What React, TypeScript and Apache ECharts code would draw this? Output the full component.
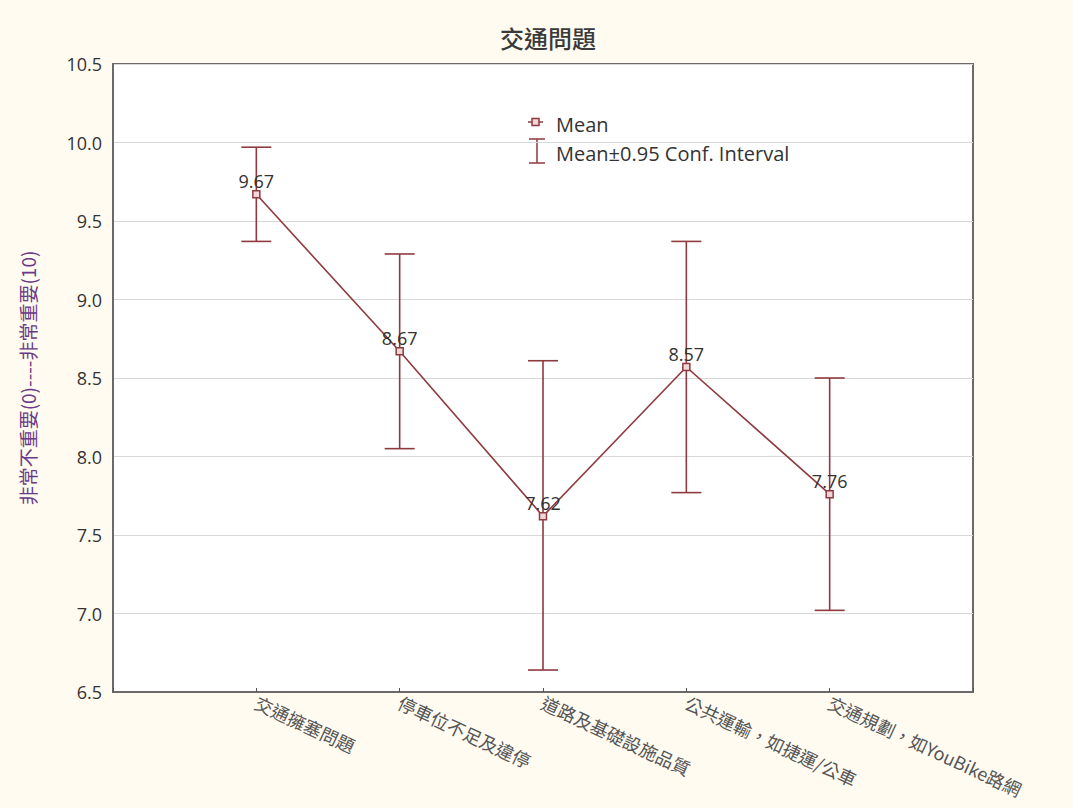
import React, { useEffect, useRef } from "react";
import * as echarts from "echarts";

const title = "交通問題";
const yAxisName = "非常不重要(0)----非常重要(10)";
const categories = [
  "交通擁塞問題",
  "停車位不足及違停",
  "道路及基礎設施品質",
  "公共運輸，如捷運/公車",
  "交通規劃，如YouBike路網",
];
const means = [9.67, 8.67, 7.62, 8.57, 7.76];
const lowerCI = [9.37, 8.05, 6.64, 7.77, 7.02];
const upperCI = [9.97, 9.29, 8.61, 9.37, 8.5];
const legendLabels = ["Mean", "Mean±0.95 Conf. Interval"];

const RED = "#8e3a3e";

export default function App() {
  const ref = useRef<HTMLDivElement>(null);
  useEffect(() => {
    document.body.style.margin = "0";
    const chart = echarts.init(ref.current!, null, { renderer: "svg" });
    const lineData = means.map((m, i) => [i + 1, m]);
    const errData = means.map((m, i) => [i + 1, lowerCI[i], upperCI[i]]);
    chart.setOption({
      animation: false,
      backgroundColor: "#fffbf1",
      title: {
        text: title,
        left: 543,
        top: 20,
        textAlign: "center",
        textStyle: {
          fontFamily: "Noto Sans CJK TC",
          fontSize: 24,
          fontWeight: 500,
          color: "#3a3a3a",
        },
      },
      grid: {
        left: 113,
        top: 64,
        right: 100,
        bottom: 116,
        show: true,
        backgroundColor: "#ffffff",
        borderColor: "#6a6a6a",
        borderWidth: 2,
      },
      xAxis: {
        type: "value",
        min: 0,
        max: 6,
        interval: 1,
        splitLine: { show: false },
        axisLine: { show: true, lineStyle: { color: "#6a6a6a", width: 2 } },
        axisTick: { show: true, length: 4, inside: true, lineStyle: { color: "#555" } },
        axisLabel: {
          rotate: -25,
          margin: 9,
          fontFamily: "Noto Sans CJK TC",
          fontSize: 18,
          color: "#555",
          formatter: (v: number) =>
            v >= 1 && v <= categories.length ? categories[v - 1] : "",
        },
      },
      yAxis: {
        type: "value",
        min: 6.5,
        max: 10.5,
        interval: 0.5,
        name: yAxisName,
        nameLocation: "middle",
        nameGap: 76,
        nameTextStyle: {
          fontFamily: "Noto Sans CJK TC",
          fontSize: 19,
          color: "#6b3a86",
        },
        axisLine: { show: true, lineStyle: { color: "#6a6a6a", width: 2 } },
        axisTick: { show: false },
        axisLabel: {
          margin: 11,
          fontFamily: "Open Sans",
          fontSize: 18,
          color: "#333",
          formatter: (v: number) => v.toFixed(1),
        },
        splitLine: { show: true, lineStyle: { color: "#d8d8d8", width: 1 } },
      },
      series: [
        {
          type: "custom",
          name: legendLabels[1],
          data: errData,
          z: 2,
          renderItem: (params: any, api: any) => {
            const x = api.value(0);
            const lo = api.coord([x, api.value(1)]);
            const hi = api.coord([x, api.value(2)]);
            const hw = 15;
            const style = { stroke: RED, lineWidth: 1.6 };
            return {
              type: "group",
              children: [
                { type: "line", shape: { x1: lo[0], y1: lo[1], x2: hi[0], y2: hi[1] }, style },
                { type: "line", shape: { x1: lo[0] - hw, y1: lo[1], x2: lo[0] + hw, y2: lo[1] }, style },
                { type: "line", shape: { x1: hi[0] - hw, y1: hi[1], x2: hi[0] + hw, y2: hi[1] }, style },
              ],
            };
          },
        },
        {
          type: "line",
          name: legendLabels[0],
          data: lineData,
          z: 3,
          symbol: "rect",
          symbolSize: 7,
          lineStyle: { color: RED, width: 1.6 },
          itemStyle: { color: "#f0d6d6", borderColor: RED, borderWidth: 1.5 },
          label: {
            show: true,
            position: "top",
            distance: 0,
            fontFamily: "Open Sans",
            fontSize: 18,
            color: "#333",
            formatter: (p: any) => p.value[1].toFixed(2),
          },
        },
      ],
      graphic: [
        { type: "line", shape: { x1: 528, y1: 122, x2: 543, y2: 122 }, style: { stroke: RED, lineWidth: 1.5 } },
        { type: "rect", shape: { x: 532, y: 118.5, width: 7, height: 7 }, style: { fill: "#f0d6d6", stroke: RED, lineWidth: 1.5 } },
        { type: "text", x: 556, y: 124, style: { text: legendLabels[0], fontFamily: "Open Sans", fontSize: 20, fill: "#333", verticalAlign: "middle" } },
        { type: "line", shape: { x1: 537, y1: 139, x2: 537, y2: 163 }, style: { stroke: RED, lineWidth: 1.5 } },
        { type: "line", shape: { x1: 529, y1: 139, x2: 545, y2: 139 }, style: { stroke: RED, lineWidth: 1.5 } },
        { type: "line", shape: { x1: 529, y1: 163, x2: 545, y2: 163 }, style: { stroke: RED, lineWidth: 1.5 } },
        { type: "text", x: 556, y: 153, style: { text: legendLabels[1], fontFamily: "Open Sans", fontSize: 20, fill: "#333", verticalAlign: "middle" } },
      ],
    });
    return () => chart.dispose();
  }, []);
  return <div ref={ref} style={{ width: 1073, height: 808 }} />;
}
